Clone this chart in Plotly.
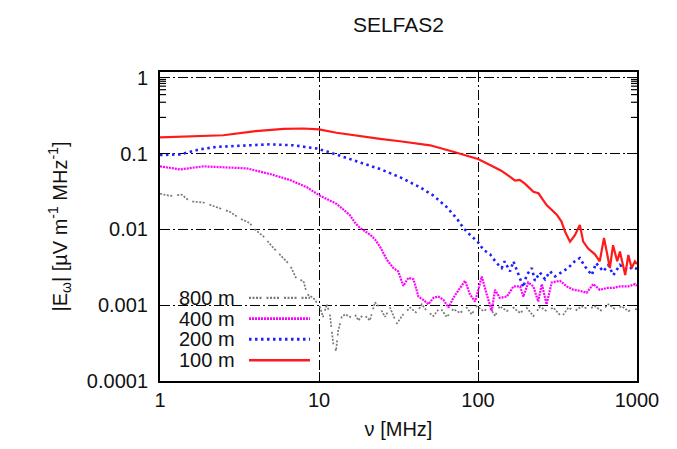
import math
import plotly.graph_objects as go

# Field spectrum |E_w| versus frequency for four antenna distances (SELFAS2)
freq_100m = [1, 2, 2.5, 4, 6, 8, 10, 12.9, 20, 24.2,
             32.3, 50, 70, 80, 100, 119, 140, 160, 171, 183,
             198, 223, 240, 270, 292, 313, 335, 353, 379, 407,
             437, 459, 493, 544, 583, 620, 645, 675, 707, 751,
             781, 843, 882, 925, 971, 1000]
e_100m = [0.164, 0.171, 0.175, 0.199, 0.213, 0.215, 0.209, 0.189, 0.165, 0.157,
          0.146, 0.129, 0.106, 0.097, 0.085, 0.071, 0.0596, 0.049, 0.044, 0.045,
          0.040, 0.0315, 0.030, 0.021, 0.0178, 0.0157, 0.0127, 0.0093, 0.0069, 0.0084,
          0.0115, 0.0069, 0.0056, 0.0047, 0.0038, 0.0077, 0.0051, 0.0031, 0.0062, 0.0038,
          0.0051, 0.0025, 0.0046, 0.0031, 0.0038, 0.0035]

freq_200m = [1, 1.34, 1.78, 2.27, 3.68, 4.9, 6.9, 9.7, 11.7, 15.6,
             20.9, 24.2, 32.3, 43.2, 52.4, 63.6, 73.7, 81, 89, 99.5,
             108, 119, 131, 141, 147, 159, 167, 184, 193, 202,
             218, 228, 245, 264, 284, 305, 335, 369, 406, 437,
             468, 519, 553, 614, 660, 710, 781, 863, 948, 1000]
e_200m = [0.096, 0.098, 0.114, 0.123, 0.129, 0.133, 0.129, 0.117, 0.104, 0.085,
          0.069, 0.0627, 0.049, 0.036, 0.028, 0.0197, 0.0139, 0.0104, 0.0085, 0.0069,
          0.0054, 0.0047, 0.0036, 0.0031, 0.0038, 0.0028, 0.0038, 0.0023, 0.00172, 0.0025,
          0.0031, 0.0021, 0.0027, 0.0022, 0.0028, 0.0024, 0.0027, 0.0031, 0.0038, 0.0042,
          0.0033, 0.0025, 0.0036, 0.0028, 0.0034, 0.0025, 0.0034, 0.0029, 0.0032, 0.0030]

freq_400m = [1, 1.34, 1.87, 2.63, 3.51, 4.9, 6.56, 8.4, 10.1, 12.9,
             15.6, 17.0, 18.1, 19.0, 21.0, 22.5, 24.2, 26.7, 29.3, 31.5,
             33.9, 36.5, 39.3, 42.2, 45.2, 48.7, 52.4, 56.3, 60.6, 65.2,
             70, 77.1, 82.9, 89.2, 95.8, 100.5, 105.6, 113.6, 122, 128,
             137, 152, 167, 184, 193, 207, 223, 239, 252, 270,
             291, 328, 362, 398, 437, 482, 531, 583, 645, 707,
             781, 883, 971, 1000]
e_400m = [0.068, 0.062, 0.068, 0.066, 0.064, 0.054, 0.045, 0.036, 0.028, 0.0218,
          0.0155, 0.012, 0.0105, 0.0098, 0.0085, 0.0074, 0.0059, 0.0040, 0.0031, 0.0028,
          0.0018, 0.0023, 0.0022, 0.0013, 0.00118, 0.00103, 0.00125, 0.0013, 0.00118, 0.00093,
          0.00125, 0.00169, 0.0021, 0.00138, 0.00112, 0.0016, 0.0024, 0.00138, 0.00084, 0.0016,
          0.00125, 0.0013, 0.00177, 0.00177, 0.0013, 0.0020, 0.00177, 0.00112, 0.0019, 0.00103,
          0.0020, 0.0021, 0.00177, 0.0016, 0.00155, 0.00146, 0.0019, 0.0016, 0.00169, 0.00169,
          0.00177, 0.00177, 0.0019, 0.0018]

freq_800m = [1, 1.16, 1.37, 1.54, 1.87, 2.27, 2.75, 3.19, 3.68, 3.86,
             4.47, 5.17, 5.97, 6.56, 7.24, 7.98, 8.4, 9.2, 10.1, 10.6,
             11.2, 11.7, 12.3, 12.8, 13.2, 13.9, 14.6, 15.7, 16.8, 17.7,
             19.0, 20.9, 22.5, 24.2, 26.0, 28.0, 30.8, 33.9, 37.4, 41.2,
             44.3, 47.6, 52.4, 57.7, 63.6, 70.0, 77.1, 84.9, 91.3, 98.2,
             108, 119, 128, 137, 152, 167, 184, 202, 223, 245,
             270, 298, 336, 370, 407, 449, 494, 544, 600, 660,
             727, 801, 882, 971, 1000]
e_800m = [0.0296, 0.0277, 0.0288, 0.0235, 0.0227, 0.0197, 0.0171, 0.0139, 0.0121, 0.0104,
          0.0081, 0.0057, 0.0042, 0.0034, 0.0022, 0.0021, 0.0014, 0.00125, 0.00097, 0.00070,
          0.00103, 0.00076, 0.00031, 0.00025, 0.00046, 0.00070, 0.00076, 0.00070, 0.00076, 0.00063,
          0.00076, 0.00063, 0.00109, 0.00093, 0.00070, 0.00093, 0.00057, 0.00076, 0.00093, 0.00079,
          0.00103, 0.00084, 0.00072, 0.00093, 0.00070, 0.00089, 0.00079, 0.00093, 0.00076, 0.00097,
          0.00084, 0.00093, 0.00072, 0.00097, 0.00084, 0.00093, 0.00079, 0.00093, 0.00072, 0.00095,
          0.00084, 0.00093, 0.00070, 0.00093, 0.00084, 0.00097, 0.00089, 0.00097, 0.00084, 0.00103,
          0.00089, 0.00097, 0.00084, 0.00089, 0.00088]

series_labels = ["800 m", "400 m", "200 m", "100 m"]
x_tick_vals = [1, 10, 100, 1000]
x_tick_text = ["1", "10", "100", "1000"]
y_tick_vals = [1e-4, 1e-3, 1e-2, 1e-1, 1]
y_tick_text = ["0.0001", "0.001", "0.01", "0.1", "1"]
y_minor_vals = [m * 10 ** k for k in range(-4, 1) for m in range(2, 10)]

FONT = "Liberation Sans, Arial, sans-serif"
TEXT_COLOR = "#111111"
GRAY_DASH = "2px,1.5px,2px,1.5px,2px,1.5px,2px,5px"
Y_RANGE = [-4, 0.078]
PLOT_W = 677 - 160 - 40

styles = {
    "800 m": dict(color="#7a7a7a", width=1.7, dash=GRAY_DASH),
    "400 m": dict(color="#ff00ff", width=2.2, dash="2px,1px"),
    "200 m": dict(color="#1f1fff", width=2.6, dash="2.5px,3.5px"),
    "100 m": dict(color="#ff1a1a", width=2.2, dash="solid"),
}
data = {
    "800 m": (freq_800m, e_800m),
    "400 m": (freq_400m, e_400m),
    "200 m": (freq_200m, e_200m),
    "100 m": (freq_100m, e_100m),
}

fig = go.Figure()
for name in series_labels:
    fx, fy = data[name]
    fig.add_trace(go.Scatter(x=fx, y=fy, mode="lines", name=name,
                             line=styles[name], showlegend=False))

grid_dash = "10px,3px,2px,3px"
axis_common = dict(
    type="log", showline=True, linecolor="black", linewidth=2, mirror="ticks",
    ticks="inside", tickcolor="black", tickwidth=1.4,
    showgrid=True, gridcolor="black", gridwidth=1.4, griddash=grid_dash,
    zeroline=False, tickfont=dict(family=FONT, size=20, color=TEXT_COLOR),
)

fig.update_layout(
    xaxis=dict(
        **axis_common, range=[0, 3], tickvals=x_tick_vals, ticktext=x_tick_text, ticklen=9,
        title=dict(text="ν [MHz]", font=dict(family=FONT, size=20, color=TEXT_COLOR),
                   standoff=12),
    ),
    yaxis=dict(
        **axis_common, range=Y_RANGE, tickmode="array",
        tickvals=y_tick_vals, ticktext=y_tick_text, ticklen=10, ticklabelstandoff=6,
        title=dict(text="|E<sub>ω</sub>| [µV m<sup>-1</sup> MHz<sup>-1</sup>]",
                   font=dict(family=FONT, size=20, color=TEXT_COLOR), standoff=14),
    ),
)

# Minor y ticks (2..9 in each decade) on the left and right frame edges;
# shape coordinates on a log axis are given as log10 of the value
tick_frac = 6 / PLOT_W
for v in y_minor_vals:
    lv = math.log10(v)
    for x0, x1 in ((0, tick_frac), (1 - tick_frac, 1)):
        fig.add_shape(type="line", xref="paper", yref="y", x0=x0, x1=x1, y0=lv, y1=lv,
                      line=dict(color="black", width=1.2), layer="above")

# Legend drawn inside the plot: right-aligned labels followed by line samples
row_y = [0.269, 0.202, 0.135, 0.067]
for name, yy in zip(series_labels, row_y):
    fig.add_annotation(x=0.1614, y=yy, xref="paper", yref="paper", text=name,
                       showarrow=False, xanchor="right", yanchor="middle",
                       font=dict(family=FONT, size=20, color=TEXT_COLOR))
    st = styles[name]
    fig.add_shape(type="line", xref="paper", yref="paper", x0=0.1866, x1=0.3145,
                  y0=yy, y1=yy, line=dict(color=st["color"], width=st["width"] + 0.4,
                                          dash=st["dash"]))

fig.update_layout(
    width=677, height=449,
    margin=dict(l=160, r=40, t=72, b=65),
    paper_bgcolor="white", plot_bgcolor="white",
    title=dict(text="SELFAS2", x=0.5885, xanchor="center", y=0.945, yanchor="middle",
               font=dict(family=FONT, size=21, color=TEXT_COLOR)),
    showlegend=False,
)

fig.write_html("out.html")
